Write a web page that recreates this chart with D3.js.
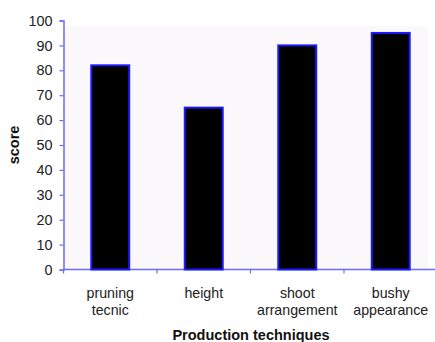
<!DOCTYPE html>
<html>
<head>
<meta charset="utf-8">
<script src="https://cdn.jsdelivr.net/npm/d3@7"></script>
<style>
  html, body { margin: 0; padding: 0; background: #ffffff; }
  svg { display: block; font-family: "Liberation Sans", Arial, sans-serif; }
</style>
</head>
<body>
<svg id="chart" width="435" height="342"></svg>
<script>
// Scores per production technique
const categories = [["pruning", "tecnic"], ["height"], ["shoot", "arrangement"], ["bushy", "appearance"]];
const scores = [82, 65, 90, 95];
const yTicks = [0, 10, 20, 30, 40, 50, 60, 70, 80, 90, 100];

const svg = d3.select("#chart");
const margin = { left: 63.5, right: -2.5, top: 20.5, bottom: 72.5 };
const W = 435, H = 342;
const keys = categories.map(c => c.join(" "));

const x = d3.scaleBand().domain(keys).range([margin.left, W - margin.right]).paddingInner(0.594).paddingOuter(0.297);
const xTick = d3.scaleBand().domain(keys).range([margin.left, W - margin.right]);
const y = d3.scaleLinear().domain([0, 100]).range([H - margin.bottom, margin.top]);

// plot background
svg.append("rect")
  .attr("x", margin.left).attr("y", 26)
  .attr("width", 428 - margin.left).attr("height", y(0) - 26)
  .attr("fill", "#fbf8fb");

const axisColor = "#6b6bff";

// y axis
const yAxis = svg.append("g")
  .attr("transform", `translate(${margin.left},0)`)
  .call(d3.axisLeft(y).tickValues(yTicks).tickSize(4).tickPadding(7));
yAxis.attr("font-size", null).attr("font-family", null);
yAxis.select(".domain").attr("stroke", axisColor).attr("stroke-width", 1.5);
yAxis.selectAll(".tick line").attr("stroke", axisColor).attr("stroke-width", 1.2);
yAxis.selectAll(".tick text")
  .attr("fill", "#222").style("font-size", "14.4px");

// x axis (ticks at category boundaries)
const xg = svg.append("g").attr("transform", `translate(0,${y(0)})`);
xg.append("line")
  .attr("x1", margin.left).attr("x2", W - margin.right)
  .attr("stroke", axisColor).attr("stroke-width", 1.5);
xg.selectAll("line.tk").data(keys).join("line")
  .attr("class", "tk")
  .attr("x1", d => xTick(d)).attr("x2", d => xTick(d))
  .attr("y1", 0).attr("y2", 4)
  .attr("stroke", axisColor).attr("stroke-width", 1.2);

// category labels
const lab = svg.append("g").selectAll("text").data(categories).join("text")
  .attr("x", (d, i) => x(keys[i]) + x.bandwidth() / 2)
  .attr("y", 298)
  .attr("text-anchor", "middle")
  .attr("fill", "#222")
  .style("font-size", "14.2px");
lab.selectAll("tspan").data(d => d).join("tspan")
  .attr("x", function () { return d3.select(this.parentNode).attr("x"); })
  .attr("dy", (d, i) => i === 0 ? 0 : 16.5)
  .text(d => d);

// bars
svg.append("g").selectAll("rect").data(scores).join("rect")
  .attr("x", (d, i) => x(keys[i]))
  .attr("y", d => y(d))
  .attr("width", x.bandwidth())
  .attr("height", d => y(0) - y(d))
  .attr("fill", "#000")
  .attr("stroke", "#1a1aff")
  .attr("stroke-width", 2);

// axis titles
svg.append("text")
  .attr("transform", "translate(18.5,145) rotate(-90)")
  .attr("text-anchor", "middle")
  .style("font-size", "14.5px").style("font-weight", "bold")
  .attr("fill", "#111")
  .text("score");

svg.append("text")
  .attr("x", 251)
  .attr("y", 340)
  .attr("text-anchor", "middle")
  .style("font-size", "14.5px").style("font-weight", "bold")
  .attr("fill", "#111")
  .text("Production techniques");
</script>
</body>
</html>
